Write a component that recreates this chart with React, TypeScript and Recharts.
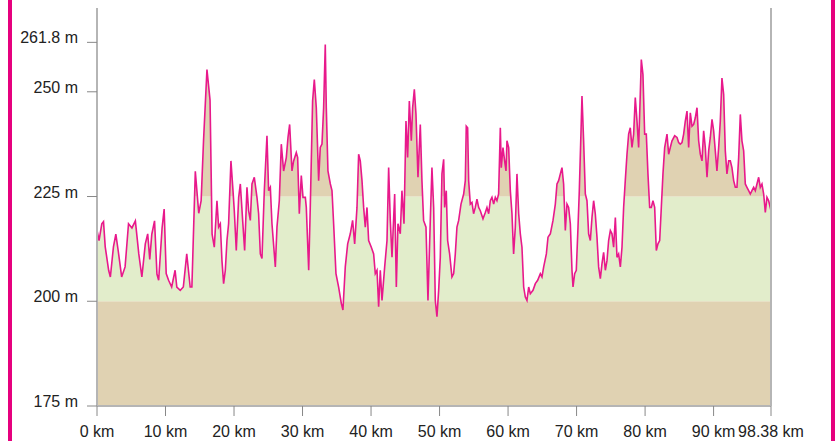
import React from "react";
import { ComposedChart, Area, Line, XAxis, YAxis, ReferenceLine } from "recharts";

const KM = [
  0, 0.3, 0.7, 0.95, 1.2, 1.7, 1.95, 2.4, 2.75, 3.1, 3.6, 4.1, 4.6, 5.1, 5.6, 6.1, 6.55, 7.05, 7.4, 7.7,
  8.0, 8.4, 8.75, 9.0, 9.5, 9.8, 10.1, 10.45, 10.9, 11.4, 11.65, 12.15, 12.6, 13.1, 13.6, 13.85, 14.35, 14.85, 15.2, 15.55,
  16.05, 16.5, 16.8, 17.12, 17.51, 17.75, 18.0, 18.24, 18.48, 18.73, 18.97, 19.21, 19.55, 19.85, 20.04, 20.33, 20.68, 20.92, 21.26, 21.55,
  21.89, 22.13, 22.38, 22.62, 22.96, 23.35, 23.59, 23.84, 24.08, 24.42, 24.81, 25.05, 25.3, 25.54, 26.03, 26.27, 26.61, 26.9, 27.24, 27.63,
  27.88, 28.12, 28.46, 28.7, 29.09, 29.29, 29.53, 29.82, 30.07, 30.41, 30.55, 30.9, 31.13, 31.47, 31.72, 32.01, 32.35, 32.59, 32.84, 33.08,
  33.32, 33.47, 33.71, 34.06, 34.3, 34.54, 34.88, 35.27, 35.66, 35.9, 36.24, 36.59, 36.97, 37.31, 37.61, 37.95, 38.19, 38.43, 38.68, 38.92,
  39.16, 39.41, 39.65, 40.04, 40.38, 40.62, 40.87, 41.11, 41.35, 41.6, 41.99, 42.33, 42.57, 42.81, 43.06, 43.45, 43.69, 43.93, 44.27, 44.51,
  44.81, 45.1, 45.34, 45.59, 45.88, 46.07, 46.32, 46.56, 46.85, 47.19, 47.43, 47.67, 48.02, 48.31, 48.65, 48.89, 49.14, 49.38, 49.62, 49.87,
  50.11, 50.35, 50.6, 50.74, 50.98, 51.18, 51.47, 51.81, 52.06, 52.3, 52.54, 52.79, 53.13, 53.52, 53.76, 53.9, 54.1, 54.25, 54.49, 54.73,
  54.97, 55.22, 55.46, 55.71, 55.95, 56.34, 56.68, 56.92, 57.17, 57.41, 57.65, 57.9, 58.14, 58.38, 58.62, 58.87, 59.01, 59.26, 59.5, 59.7,
  59.84, 60.09, 60.33, 60.57, 60.81, 61.06, 61.3, 61.55, 61.79, 62.03, 62.28, 62.52, 62.76, 63.01, 63.25, 63.64, 63.98, 64.32, 64.71, 64.95,
  65.2, 65.59, 65.83, 66.17, 66.56, 66.9, 67.14, 67.38, 67.63, 67.87, 68.11, 68.36, 68.6, 68.84, 69.09, 69.33, 69.48, 69.72, 69.96, 70.21,
  70.4, 70.69, 70.79, 71.03, 71.28, 71.52, 71.76, 72.01, 72.25, 72.49, 72.73, 72.98, 73.22, 73.47, 73.71, 73.95, 74.2, 74.44, 74.68, 74.93,
  75.17, 75.41, 75.66, 75.9, 76.14, 76.39, 76.63, 76.87, 77.11, 77.36, 77.6, 77.84, 78.09, 78.33, 78.57, 78.82, 79.06, 79.3, 79.45, 79.69,
  79.94, 80.18, 80.42, 80.67, 80.91, 81.15, 81.4, 81.64, 81.88, 82.13, 82.37, 82.61, 82.86, 83.2, 83.44, 83.68, 83.93, 84.32, 84.66, 84.9,
  85.14, 85.39, 85.63, 85.87, 86.12, 86.36, 86.6, 86.85, 87.09, 87.33, 87.58, 87.82, 88.06, 88.31, 88.55, 88.79, 89.04, 89.28, 89.52, 89.77,
  90.01, 90.25, 90.49, 90.74, 90.98, 91.22, 91.47, 91.71, 91.95, 92.2, 92.44, 92.68, 92.93, 93.17, 93.41, 93.66, 93.9, 94.14, 94.39, 94.63,
  94.87, 95.12, 95.36, 95.6, 95.85, 96.09, 96.33, 96.58, 96.82, 97.06, 97.31, 97.55, 97.79, 98.04, 98.38,
];

const ELEV = [
  217, 214.5, 218.5, 219, 213, 207.4, 205.8, 213, 216, 212, 205.8, 208.2, 218.5, 217.5, 219.2, 211.3, 205.8, 213.7, 216.1, 210,
  216, 219.2, 206.5, 205, 217.5, 222, 206.6, 205, 203.4, 207.4, 203.4, 202.6, 203.4, 211.3, 203.4, 203.4, 231, 221, 224, 238.3,
  255.3, 248, 216, 212.9, 224, 217.7, 218.5, 209.7, 204.2, 207.4, 214.5, 218.5, 233.5, 226.4, 221.6, 212.1, 224.8, 228, 219.3, 212.1,
  227.2, 221.6, 219.3, 228, 229.6, 224.8, 220.9, 211.3, 210.2, 226.4, 239.5, 226.4, 227.2, 218.5, 208.2, 217.7, 224, 237.5, 231.1, 234.3,
  239.1, 242.2, 231.1, 233.5, 235.5, 234.3, 220.9, 230, 224.8, 224.8, 222.4, 207.4, 222.4, 247.8, 252.9, 246.2, 228.8, 236.7, 237.5, 246.2,
  261.3, 246.2, 231.1, 228, 226.4, 218.5, 206.6, 203.4, 199.5, 197.9, 208.2, 213.7, 216.1, 219.3, 213.7, 222.4, 235.1, 233.5, 228.8, 222.4,
  217.7, 222.4, 214.5, 212.9, 211.3, 206.6, 207.4, 198.7, 207.4, 200.2, 208.2, 214.5, 231.9, 219.3, 210.5, 225.6, 203.4, 218.5, 216.1, 226.4,
  218.5, 243, 234.3, 247.8, 238.3, 246.2, 250.6, 244.6, 229.6, 242.2, 228.8, 219.3, 217.7, 200.2, 219.3, 231.9, 222.4, 200.2, 196.3, 202.6,
  210.5, 230.4, 233.9, 222.4, 226.4, 214.5, 211.3, 205.8, 206.6, 211.3, 217.7, 219.3, 223.2, 225.6, 228.8, 241.8, 241.4, 228.8, 223.2, 223.6,
  220.9, 222.4, 224.4, 222.4, 221.6, 219.7, 221.2, 222.4, 220.9, 224, 224.8, 223.2, 224.8, 224, 225.6, 241.4, 231.9, 236.7, 233.5, 231.1,
  238.3, 236.7, 226.4, 220.9, 211.3, 217.7, 230.4, 220.9, 216.1, 212.9, 203.4, 201, 200.2, 203.4, 201.8, 202.6, 204.2, 205, 206.6, 205.8,
  208.2, 211.3, 215.3, 216.1, 219.3, 223.2, 228, 228.8, 230.4, 231.9, 228, 216.9, 223.2, 222.4, 218.5, 207.4, 203.4, 206.6, 207.4, 217.7,
  226.4, 243, 249, 238.3, 225.6, 224, 216.1, 214.5, 220, 224, 220.9, 215.3, 208.2, 205.4, 209, 211.7, 207.4, 209.7, 214.5, 216.9,
  216.1, 212.9, 220, 210.5, 211.3, 208.2, 212.9, 222.4, 228.8, 235.1, 239.9, 241.4, 236.7, 239.9, 248.6, 243, 236.7, 249.4, 257.7, 254.1,
  239.9, 239.9, 230.4, 222.4, 222.4, 224, 222.4, 212.1, 213.7, 214.5, 222.4, 230.4, 236.7, 239.9, 235.1, 236.7, 238.3, 239.5, 239.1, 237.9,
  237.5, 237.9, 239.9, 243, 245.4, 236.7, 245, 241.8, 242.2, 243.8, 246.2, 238.3, 235.1, 233.5, 240.7, 236.7, 229.6, 235.9, 239.1, 243.4,
  240.7, 235.9, 231.1, 236.7, 243, 253.3, 249.4, 235.9, 230.4, 233.5, 233.5, 231.9, 228.8, 227.2, 227.2, 234.3, 244.6, 238.3, 235.9, 228,
  227.2, 226.4, 225.6, 226.4, 227.2, 226.4, 228, 229.6, 227.2, 228, 225.6, 221.2, 224.8, 224, 221.6,
];

const X_TICKS = [0, 10, 20, 30, 40, 50, 60, 70, 80, 90, 98.38];
const Y_TICKS = [175, 200, 225, 250, 261.8];
const Y_MIN = 175;
const Y_MAX = 270;
const BAND_LOW = 200;
const BAND_HIGH = 225;

const data = KM.map((km, i) => ({ km, elev: ELEV[i] }));

const TAN = "#e0d2b2";
const GREEN = "#e2edcb";
const PINK = "#e8198b";
const AXIS = "#b5b5b5";
const FONT = "'Liberation Sans', Arial, Helvetica, sans-serif";

const YTick = (props: any) => {
  const { x, y, payload } = props;
  return (
    <text x={x} y={y + 1} textAnchor="end" fontSize={16} fontFamily={FONT} fill="#222">
      {`${payload.value} m`}
    </text>
  );
};

export default function App() {
  return (
    <div style={{ position: "absolute", left: 0, top: 0, width: 835, height: 441, background: "#fff" }}>
      <div style={{ position: "absolute", left: 8, top: 0, width: 4, height: 441, background: "#e6007e" }} />
      <div style={{ position: "absolute", left: 831, top: 0, width: 4, height: 441, background: "#e6007e" }} />
      <div style={{ position: "absolute", left: 0, top: 0 }}>
        <ComposedChart width={835} height={441} data={data} margin={{ top: 8, right: 64, bottom: 5, left: 17 }}>
          <XAxis
            dataKey="km"
            type="number"
            domain={[0, 98.38]}
            ticks={X_TICKS}
            interval={0}
            allowDataOverflow
            tickFormatter={(v: number) => `${v} km`}
            height={30}
            tickSize={10}
            tickMargin={10}
            stroke={AXIS}
            axisLine={{ stroke: AXIS, strokeWidth: 2 }}
            tickLine={{ stroke: "#888" }}
            tick={{ fill: "#222", fontSize: 16, fontFamily: FONT }}
          />
          <YAxis
            type="number"
            domain={[Y_MIN, Y_MAX]}
            ticks={Y_TICKS}
            interval={0}
            allowDataOverflow
            width={80}
            tickSize={10}
            tickMargin={9}
            axisLine={{ stroke: AXIS, strokeWidth: 2 }}
            tickLine={{ stroke: "#888" }}
            tick={<YTick />}
          />
          <Area dataKey={() => [Y_MIN, BAND_LOW]} stroke="none" fill={TAN} fillOpacity={1} isAnimationActive={false} />
          <Area dataKey={() => [BAND_LOW, BAND_HIGH]} stroke="none" fill={GREEN} fillOpacity={1} isAnimationActive={false} />
          <Area dataKey={() => [BAND_HIGH, Y_MAX]} stroke="none" fill={TAN} fillOpacity={1} isAnimationActive={false} />
          <Area dataKey={(d: any) => [d.elev, Y_MAX]} stroke="none" fill="#ffffff" fillOpacity={1} isAnimationActive={false} />
          <Line dataKey="elev" type="linear" stroke={PINK} strokeWidth={1.6} dot={false} isAnimationActive={false} />
          <ReferenceLine x={98.38} stroke={AXIS} strokeWidth={2} />
        </ComposedChart>
      </div>
    </div>
  );
}
